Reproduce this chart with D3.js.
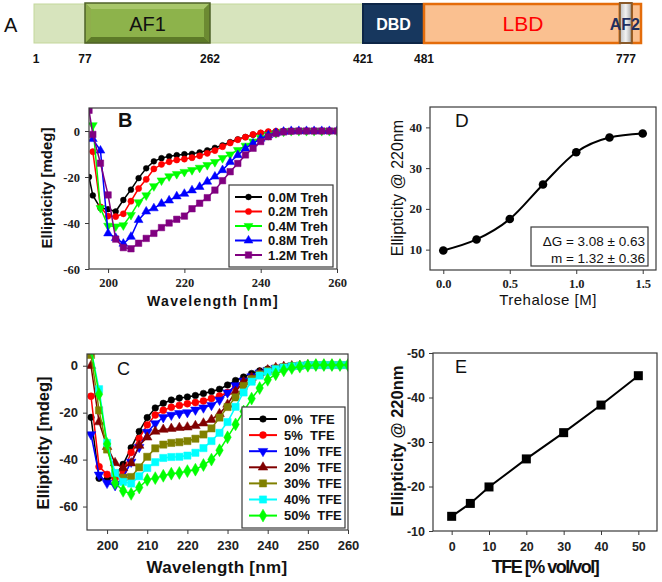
<!DOCTYPE html>
<html><head><meta charset="utf-8">
<script src="https://cdn.jsdelivr.net/npm/d3@7"></script>
<style>body{margin:0;background:#fff} svg{display:block}</style>
</head><body>
<svg id="c" width="662" height="582"></svg>
<script>
// ---------------- DATA ----------------
// Panel A: domain map
const residueMarks = [1, 77, 262, 421, 481, 777];
const domainNames = ["AF1", "DBD", "LBD", "AF2"];
const domainStart = [77, 421, 481, 768];
const domainEnd   = [262, 481, 768, 782];
const barEnd = 790;

// Panel B: CD spectra vs trehalose
const wlB = [195, 196, 198, 200, 202, 204, 206, 208, 210, 212, 214, 216, 218, 220, 222, 224, 226, 228, 230, 232, 234, 236, 238, 240, 242, 244, 246, 248, 250, 252, 254, 256, 258, 260];
const trehLabels = ["0.0M Treh", "0.2M Treh", "0.4M Treh", "0.8M Treh", "1.2M Treh"];
const treh00 = [-20, -28, -33.5, -34, -35, -30, -25.5, -20.5, -16.2, -13.2, -11.8, -11, -10.5, -10.1, -9.9, -9.3, -8.4, -7.3, -6.2, -4.8, -3.6, -2.6, -1.6, -0.9, -0.4, -0.2, 0, 0, 0, 0, 0, 0, 0, 0];
const treh02 = [null, -9, -33, -37, -37.2, -36, -30.5, -25, -21, -16.5, -14.5, -13.4, -12.6, -12.2, -11.6, -10.8, -9.7, -8.5, -6.8, -5.2, -3.8, -2.7, -1.5, -0.8, -0.3, -0.1, 0, 0, 0, 0, 0, 0, 0, 0];
const treh04 = [null, 2.5, -33.5, -41.2, -41.5, -41, -36.5, -31, -28, -24, -21.5, -19.7, -18.7, -17.8, -17, -16, -14.8, -13.5, -11.8, -10.2, -8.3, -6.4, -4.6, -3, -1.8, -0.9, -0.3, 0, 0, 0, 0, 0, 0, 0];
const treh08 = [null, -3.5, -8.5, -44.5, -46.5, -49, -46, -38.7, -35, -33.6, -31.6, -30.2, -28.4, -27.3, -25.8, -24.3, -22, -19.8, -17, -13.5, -10.5, -7.6, -5.4, -3.3, -1.8, -0.8, -0.3, 0, 0, 0, 0, 0, 0, 0];
const treh12 = [9, -1.5, -14, -27.8, -47, -50.7, -51.2, -48.8, -46.7, -44.5, -42, -40, -38.4, -37, -33.8, -31.4, -29, -25.7, -21.6, -17.7, -14.1, -10.4, -7.5, -4.6, -2.5, -1.1, -0.4, -0.1, 0, 0, 0, 0, 0, 0];
const bXTicks = [200, 220, 240, 260];
const bYTicks = [0, -20, -40, -60];

// Panel C: CD spectra vs TFE
const wlC = [196, 198, 200, 202, 204, 206, 208, 210, 212, 214, 216, 218, 220, 222, 224, 226, 228, 230, 232, 234, 236, 238, 240, 242, 244, 246, 248, 250, 252, 254, 256, 258, 260];
const tfeLabels = ["0%  TFE", "5%  TFE", "10%  TFE", "20%  TFE", "30%  TFE", "40%  TFE", "50%  TFE"];
const tfe0  = [-22, -48, -48.5, -47, -42, -35, -28, -22.1, -18, -16, -14.6, -13.8, -13.3, -12.7, -11.8, -11, -10, -8.2, -6.3, -4.8, -3.3, -2.2, -1.4, -0.9, -0.5, -0.2, 0, 0.3, 0.3, 0.3, 0.3, 0.3, 0.3];
const tfe5  = [-13, -43, -46.3, -48, -45, -37, -31, -25.2, -21, -19, -17.7, -16.9, -16.2, -15.7, -15, -14, -12.9, -11.4, -8.9, -7, -5.3, -3.6, -2.2, -1.2, -0.6, -0.2, 0, 0.3, 0.3, 0.3, 0.3, 0.3, 0.3];
const tfe10 = [-29.3, -46.5, -50, -51, -47.5, -41, -34.7, -28.3, -24.6, -22, -21, -20.3, -19.9, -18.8, -17.9, -16.8, -14.6, -11.5, -8.4, -6.4, -4.6, -3, -1.9, -1, -0.5, -0.1, 0, 0.3, 0.3, 0.3, 0.3, 0.3, 0.3];
const tfe20 = [0, -24, -34.5, -41.4, -43.6, -41.5, -34, -30.5, -28, -27.2, -26.8, -26.4, -26.2, -25.6, -24.5, -23, -20.5, -16.5, -11, -6.8, -5, -3.1, -1.8, -0.9, -0.4, -0.1, 0, 0.3, 0.3, 0.3, 0.3, 0.3, 0.3];
const tfe30 = [4.6, -19, -35.7, -46, -47.7, -47.4, -43.3, -38.8, -35.2, -33.6, -32.9, -32.6, -32.1, -31.1, -29.3, -26.7, -22.1, -17.6, -13.5, -8.6, -5.7, -3.7, -2.2, -1.2, -0.6, -0.2, 0, 0.3, 0.3, 0.3, 0.3, 0.3, 0.3];
const tfe40 = [7, -10, -32.9, -45.7, -49.5, -50.2, -47.1, -43.6, -41.1, -39.3, -38.9, -38.8, -38.3, -37.1, -35.1, -32.1, -28.6, -24, -17.5, -11.4, -6.8, -4.2, -2.6, -1.5, -0.8, -0.3, 0, 0.3, 0.3, 0.3, 0.3, 0.3, 0.3];
const tfe50 = [7, -12.1, -33.3, -50, -53.3, -54.6, -51.9, -48.6, -47.9, -46.9, -46, -45.7, -44.9, -44.3, -42.3, -40, -36, -30.5, -25, -19.5, -14, -9.5, -6, -3.6, -2, -1, -0.4, 0, 0.3, 0.3, 0.3, 0.3, 0.3];
const cXTicks = [200, 210, 220, 230, 240, 250, 260];
const cYTicks = [0, -20, -40, -60];

// Panel D: ellipticity at 220 nm vs trehalose
const trehConc = [0, 0.25, 0.5, 0.75, 1.0, 1.25, 1.5];
const ellipD = [9.8, 12.5, 17.5, 26, 33.9, 37.5, 38.5];
const dXTicks = [0, 0.5, 1.0, 1.5];
const dYTicks = [10, 20, 30, 40];
const dFitText = ["\u0394G = 3.08 \u00B1 0.63", "m = 1.32 \u00B1 0.36"];

// Panel E: ellipticity at 220 nm vs TFE
const tfeConc = [0, 5, 10, 20, 30, 40, 50];
const ellipE = [-13.3, -16.2, -19.9, -26.2, -32.1, -38.3, -44.9];
const eXTicks = [0, 10, 20, 30, 40, 50];
const eYTicks = [-50, -40, -30, -20, -10];

// ---------------- DRAW ----------------
const svg = d3.select("#c");
const SANS = "'Liberation Sans', Arial, sans-serif";
const SERIF = "'Liberation Serif', 'Times New Roman', serif";
const NARROW = "'Liberation Sans Narrow', 'Liberation Sans', Arial, sans-serif";
const FRAME = "#3a3a3a";

// ---- Panel A ----
const xr = d3.scaleLinear().domain([1, 77, 262, 421, 481, 777, barEnd]).range([34, 85, 210, 363, 424, 626, 641]);
const gA = svg.append("g");
const barTop = 4, barH = 39;
const defs = svg.append("defs");
const gg = defs.append("linearGradient").attr("id", "af2g").attr("x1", 0).attr("x2", 1);
gg.append("stop").attr("offset", "0").attr("stop-color", "#bfbfbf");
gg.append("stop").attr("offset", "0.5").attr("stop-color", "#f2f2f2");
gg.append("stop").attr("offset", "1").attr("stop-color", "#a6a6a6");

gA.append("rect").attr("x", xr(1)).attr("y", barTop).attr("width", xr(421) - xr(1)).attr("height", barH)
  .attr("fill", "#d7e4bd").attr("stroke", "#c4d79b").attr("stroke-width", 1);
// AF1 bevelled box
{
  const x0 = xr(domainStart[0]), x1 = xr(domainEnd[0]), y0 = barTop - 1, y1 = barTop + barH, b = 6;
  gA.append("rect").attr("x", x0).attr("y", y0).attr("width", x1 - x0).attr("height", y1 - y0).attr("fill", "#7e9c3e");
  gA.append("polygon").attr("points", [[x0, y0], [x1, y0], [x1 - b, y0 + b], [x0 + b, y0 + b]].join(" ")).attr("fill", "#a8c66a");
  gA.append("polygon").attr("points", [[x0, y1], [x1, y1], [x1 - b, y1 - b], [x0 + b, y1 - b]].join(" ")).attr("fill", "#5d7a28");
  gA.append("polygon").attr("points", [[x0, y0], [x0 + b, y0 + b], [x0 + b, y1 - b], [x0, y1]].join(" ")).attr("fill", "#8fae4c");
  gA.append("polygon").attr("points", [[x1, y0], [x1 - b, y0 + b], [x1 - b, y1 - b], [x1, y1]].join(" ")).attr("fill", "#6c8a32");
  gA.append("rect").attr("x", x0 + b).attr("y", y0 + b).attr("width", x1 - x0 - 2 * b).attr("height", y1 - y0 - 2 * b).attr("fill", "#8db34b");
  gA.append("rect").attr("x", x0).attr("y", y0).attr("width", x1 - x0).attr("height", y1 - y0).attr("fill", "none").attr("stroke", "#4f6228").attr("stroke-width", 1.5);
  gA.append("text").attr("x", (x0 + x1) / 2).attr("y", 31).attr("text-anchor", "middle")
    .attr("font-family", SANS).attr("font-size", 20).attr("fill", "#111").text(domainNames[0]);
}
// DBD
gA.append("rect").attr("x", xr(domainStart[1])).attr("y", barTop).attr("width", xr(domainEnd[1]) - xr(domainStart[1])).attr("height", barH)
  .attr("fill", "#17375e").attr("stroke", "#0d2647").attr("stroke-width", 2);
gA.append("text").attr("x", (xr(domainStart[1]) + xr(domainEnd[1])) / 2).attr("y", 29.5).attr("text-anchor", "middle")
  .attr("font-family", SANS).attr("font-weight", "bold").attr("font-size", 16).attr("fill", "#fff").text(domainNames[1]);
// LBD
gA.append("rect").attr("x", xr(domainStart[2])).attr("y", barTop).attr("width", xr(domainEnd[2]) - xr(domainStart[2])).attr("height", barH)
  .attr("fill", "#fac090").attr("stroke", "#e46c0a").attr("stroke-width", 2.5);
gA.append("text").attr("x", 523).attr("y", 31).attr("text-anchor", "middle")
  .attr("font-family", SANS).attr("font-size", 21).attr("fill", "#ff0000").text(domainNames[2]);
// tail
gA.append("rect").attr("x", xr(domainEnd[3])).attr("y", barTop).attr("width", xr(barEnd) - xr(domainEnd[3])).attr("height", barH)
  .attr("fill", "#fac090").attr("stroke", "#e46c0a").attr("stroke-width", 2.5);
// AF2
gA.append("rect").attr("x", xr(domainStart[3])).attr("y", barTop - 1).attr("width", xr(domainEnd[3]) - xr(domainStart[3])).attr("height", barH + 1)
  .attr("fill", "url(#af2g)").attr("stroke", "#8a5a2a").attr("stroke-width", 2);
gA.append("text").attr("x", (xr(domainStart[3]) + xr(domainEnd[3])) / 2 - 1).attr("y", 29.5).attr("text-anchor", "middle")
  .attr("font-family", SANS).attr("font-weight", "bold").attr("font-size", 16).attr("fill", "#1f2f5e").text(domainNames[3]);
// residue labels
gA.selectAll("text.res").data(residueMarks).enter().append("text").attr("class", "res")
  .attr("x", d => d === 1 ? xr(d) + 2 : xr(d)).attr("y", 63).attr("text-anchor", "middle")
  .attr("font-family", NARROW).attr("font-weight", "bold").attr("font-size", 12).attr("fill", "#111").text(d => d);
gA.append("text").attr("x", 4).attr("y", 32).attr("font-family", SANS).attr("font-size", 20).attr("fill", "#111").text("A");

// ---- helpers ----
function axes(g, x, y, left, bottom, xt, yt, o) {
  const ax = g.append("g").attr("transform", `translate(0,${bottom})`)
    .call(d3.axisBottom(x).tickValues(xt).tickSize(4).tickPadding(o.padX).tickFormat(o.xfmt || (d => d)));
  const ay = g.append("g").attr("transform", `translate(${left},0)`)
    .call(d3.axisLeft(y).tickValues(yt).tickSize(4).tickPadding(o.padY).tickFormat(o.yfmt || (d => d)));
  [ax, ay].forEach(a => {
    a.select(".domain").remove();
    a.selectAll("line").attr("stroke", FRAME).attr("stroke-width", 1);
    a.selectAll("text").attr("font-family", o.font).attr("font-size", o.fs).attr("font-weight", o.fw).attr("fill", "#222");
  });
}
function frame(g, x, y) {
  const [xa, xb] = x.range(), [ya, yb] = y.range();
  g.append("rect").attr("x", Math.min(xa, xb)).attr("y", Math.min(ya, yb))
    .attr("width", Math.abs(xb - xa)).attr("height", Math.abs(yb - ya))
    .attr("fill", "none").attr("stroke", FRAME).attr("stroke-width", 1.2);
}
function clip(id, x, y) {
  const [xa, xb] = x.range(), [ya, yb] = y.range();
  defs.append("clipPath").attr("id", id).append("rect").attr("x", Math.min(xa, xb)).attr("y", Math.min(ya, yb))
    .attr("width", Math.abs(xb - xa)).attr("height", Math.abs(yb - ya));
}
function marker(sel, shape, size, color) {
  let type = d3.symbolCircle, rot = 0;
  if (shape === "square") type = d3.symbolSquare;
  if (shape === "triUp") type = d3.symbolTriangle;
  if (shape === "triDown") { type = d3.symbolTriangle; rot = 180; }
  if (shape === "diamond") type = d3.symbolDiamond;
  sel.attr("d", d3.symbol().type(type).size(size)).attr("fill", color).attr("stroke", color).attr("stroke-width", 0.5)
    .attr("data-rot", rot);
}
function series(g, x, y, xs, ys, color, shape, size, lw) {
  const pts = xs.map((v, i) => [v, ys[i]]).filter(p => p[1] !== null);
  g.append("path").datum(pts).attr("fill", "none").attr("stroke", color).attr("stroke-width", lw)
    .attr("d", d3.line().x(p => x(p[0])).y(p => y(p[1])));
  g.selectAll(null).data(pts).enter().append("path")
    .call(marker, shape, size, color)
    .attr("transform", function (p) { return `translate(${x(p[0])},${y(p[1])}) rotate(${this.getAttribute("data-rot")})`; });
}
function legend(g, x0, y0, w, h, rows, rowY0, dy, lineX0, lineX1, textX, fs) {
  g.append("rect").attr("x", x0).attr("y", y0).attr("width", w).attr("height", h).attr("fill", "#fff").attr("stroke", FRAME).attr("stroke-width", 1.2);
  rows.forEach((r, i) => {
    const yy = rowY0 + i * dy;
    g.append("line").attr("x1", lineX0).attr("x2", lineX1).attr("y1", yy).attr("y2", yy).attr("stroke", r.color).attr("stroke-width", 2);
    g.append("path").call(marker, r.shape, r.size, r.color)
      .attr("transform", `translate(${(lineX0 + lineX1) / 2},${yy}) rotate(${r.shape === "triDown" ? 180 : 0})`);
    g.append("text").attr("x", textX).attr("y", yy).attr("dy", "0.36em").style("white-space", "pre")
      .attr("font-family", SANS).attr("font-weight", "bold").attr("font-size", fs).attr("fill", "#111").text(r.label);
  });
}
function title(g, x, y, txt, o) {
  const t = g.append("text").attr("x", x).attr("y", y).attr("text-anchor", "middle").attr("font-family", SANS)
    .attr("font-size", o.fs).attr("font-weight", o.fw || "normal").attr("fill", "#111").attr("dy", "0.35em").text(txt);
  if (o.ls) t.attr("letter-spacing", o.ls);
  if (o.rot) t.attr("transform", `rotate(-90,${x},${y})`);
}

// ---- Panel B ----
{
  const g = svg.append("g");
  const x = d3.scaleLinear().domain([195, 260]).range([89, 337]);
  const y = d3.scaleLinear().domain([-60, 10]).range([269, 108]);
  clip("clipB", x, y);
  const gp = g.append("g").attr("clip-path", "url(#clipB)");
  const sB = [
    { v: treh00, color: "#000000", shape: "circle", size: 26 },
    { v: treh02, color: "#ff0000", shape: "circle", size: 30 },
    { v: treh04, color: "#00ff00", shape: "triDown", size: 34 },
    { v: treh08, color: "#0000ff", shape: "triUp", size: 34 },
    { v: treh12, color: "#800080", shape: "square", size: 42 }
  ];
  sB.forEach(s => series(gp, x, y, wlB, s.v, s.color, s.shape, s.size, 1.5));
  axes(g, x, y, 89, 269, bXTicks, bYTicks, { padX: 5, padY: 5, font: SERIF, fs: 12.5, fw: "bold" });
  frame(g, x, y);
  legend(g, 229, 185, 104, 82, sB.map((s, i) => ({ ...s, label: trehLabels[i] })), 197, 14.5, 235, 262, 268, 13);
  g.append("text").attr("x", 118).attr("y", 127).attr("font-family", SANS).attr("font-weight", "bold").attr("font-size", 20).attr("fill", "#111").text("B");
  title(g, 47, 188, "Ellipticity [mdeg]", { fs: 15, fw: "bold", rot: true });
  title(g, 213, 301, "Wavelength [nm]", { fs: 14, fw: "bold", ls: 1.3 });
}

// ---- Panel D ----
{
  const g = svg.append("g");
  const x = d3.scaleLinear().domain([-0.1, 1.6]).range([430, 656]);
  const y = d3.scaleLinear().domain([5, 45]).range([270, 107]);
  const pts = trehConc.map((c, i) => [c, ellipD[i]]);
  g.append("path").datum(pts).attr("fill", "none").attr("stroke", "#000").attr("stroke-width", 2)
    .attr("d", d3.line().x(p => x(p[0])).y(p => y(p[1])).curve(d3.curveMonotoneX));
  g.selectAll(null).data(pts).enter().append("circle").attr("cx", p => x(p[0])).attr("cy", p => y(p[1])).attr("r", 4.3).attr("fill", "#000");
  axes(g, x, y, 430, 270, dXTicks, dYTicks, { padX: 5, padY: 4, font: SERIF, fs: 12.5, fw: "bold", xfmt: d3.format(".1f") });
  frame(g, x, y);
  g.append("rect").attr("x", 531).attr("y", 227).attr("width", 117).attr("height", 39).attr("fill", "#fff").attr("stroke", FRAME).attr("stroke-width", 1.2);
  dFitText.forEach((t, i) => g.append("text").attr("x", 645).attr("y", 246 + i * 17).attr("text-anchor", "end")
    .attr("font-family", SANS).attr("font-size", 13.5).attr("fill", "#111").text(t));
  g.append("text").attr("x", 455).attr("y", 127).attr("font-family", SANS).attr("font-size", 19).attr("fill", "#111").text("D");
  title(g, 397, 188, "Ellipticity @ 220nm", { fs: 16 , rot: true });
  title(g, 548, 300, "Trehalose [M]", { fs: 15, ls: 0.5 });
}

// ---- Panel C ----
{
  const g = svg.append("g");
  const x = d3.scaleLinear().domain([195, 260]).range([87, 348]);
  const y = d3.scaleLinear().domain([-70, 5]).range([530, 354]);
  clip("clipC", x, y);
  const gp = g.append("g").attr("clip-path", "url(#clipC)");
  const sC = [
    { v: tfe0,  color: "#000000", shape: "circle", size: 34 },
    { v: tfe5,  color: "#ff0000", shape: "circle", size: 38 },
    { v: tfe10, color: "#0000ff", shape: "triDown", size: 40 },
    { v: tfe20, color: "#800000", shape: "triUp", size: 40 },
    { v: tfe30, color: "#808000", shape: "square", size: 52 },
    { v: tfe40, color: "#00ffff", shape: "square", size: 52 },
    { v: tfe50, color: "#00ff00", shape: "diamond", size: 48 }
  ];
  sC.forEach(s => series(gp, x, y, wlC, s.v, s.color, s.shape, s.size, 1.5));
  axes(g, x, y, 87, 530, cXTicks, cYTicks, { padX: 7, padY: 5, font: SANS, fs: 13, fw: "bold" });
  frame(g, x, y);
  legend(g, 242, 407, 103, 121, sC.map((s, i) => ({ ...s, label: tfeLabels[i] })), 419, 16.1, 249, 277, 284, 13);
  g.append("text").attr("x", 117).attr("y", 375).attr("font-family", SANS).attr("font-size", 18).attr("fill", "#111").text("C");
  title(g, 43, 443, "Ellipticity [mdeg]", { fs: 16.5, fw: "bold", rot: true });
  title(g, 217, 567, "Wavelength [nm]", { fs: 17, fw: "bold", ls: 0.3 });
}

// ---- Panel E ----
{
  const g = svg.append("g");
  const x = d3.scaleLinear().domain([-5, 55]).range([433, 657]);
  const y = d3.scaleLinear().domain([-10, -50]).range([531, 353]);
  const pts = tfeConc.map((c, i) => [c, ellipE[i]]);
  g.append("path").datum(pts).attr("fill", "none").attr("stroke", "#000").attr("stroke-width", 2)
    .attr("d", d3.line().x(p => x(p[0])).y(p => y(p[1])));
  g.selectAll(null).data(pts).enter().append("rect").attr("x", p => x(p[0]) - 4.5).attr("y", p => y(p[1]) - 4.5)
    .attr("width", 9).attr("height", 9).attr("fill", "#000");
  axes(g, x, y, 433, 531, eXTicks, eYTicks, { padX: 7, padY: 4, font: SANS, fs: 12.5, fw: "bold" });
  frame(g, x, y);
  g.append("text").attr("x", 455).attr("y", 373).attr("font-family", SANS).attr("font-size", 18).attr("fill", "#111").text("E");
  title(g, 397, 441, "Ellipticity @ 220nm", { fs: 16.5, fw: "bold", rot: true });
  title(g, 545, 567, "TFE [% vol/vol]", { fs: 18, fw: "bold", ls: -1.5 });
}
</script>
</body></html>
